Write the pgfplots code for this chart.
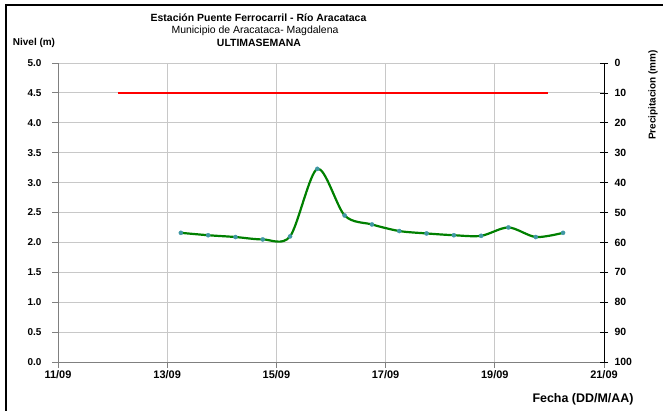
\documentclass[border=0pt]{standalone}
\usepackage{pgfplots}
\pgfplotsset{compat=1.18}
\usepackage{fontspec}
\setmainfont{Liberation Sans}
\definecolor{gridc}{RGB}{200,200,200}
\definecolor{axc}{RGB}{128,128,128}
\definecolor{lvl}{RGB}{0,128,0}
\definecolor{mk}{RGB}{64,152,164}
\begin{document}
\begin{tikzpicture}
\path[use as bounding box] (-58bp,-49bp) rectangle (605bp,362bp);
\draw[line width=2bp,black] (-52bp,-49bp) -- (-52bp,357bp) -- (605bp,357bp);
\begin{axis}[
  at={(0,0)}, anchor=south west,
  scale only axis, width=546bp, height=299bp,
  xmin=11, xmax=21, ymin=0, ymax=5,
  axis x line*=bottom, axis y line*=left,
  axis line style={axc, line width=0.8bp},
  xtick={11,13,15,17,19,21},
  xticklabels={11/09,13/09,15/09,17/09,19/09,21/09},
  ytick={0,0.5,...,5.0},
  yticklabels={0.0,0.5,1.0,1.5,2.0,2.5,3.0,3.5,4.0,4.5,5.0},
  tick style={axc, line width=0.8bp},
  major tick length=6bp,
  tick align=outside,
  grid=major,
  major grid style={gridc, line width=0.8bp},
  yticklabel style={font=\bfseries\fontsize{10}{11}\selectfont, xshift=-7bp},
  xticklabel style={font=\bfseries\fontsize{11}{12}\selectfont, yshift=1bp},
  clip=false,
]
\addplot[red, line width=2bp] coordinates {(12.1,4.5) (19.97,4.5)};
\addplot[lvl, line width=2.2bp, smooth, tension=0.5, mark=*, mark size=2.1bp,
  mark options={fill=mk, draw=mk, line width=0.3bp}] coordinates {
(13.25,2.16) (13.75,2.12) (14.25,2.09) (14.75,2.05) (15.25,2.10)
(15.75,3.23) (16.25,2.45) (16.75,2.30) (17.25,2.19) (17.75,2.15)
(18.25,2.12) (18.75,2.11) (19.25,2.25) (19.75,2.09) (20.25,2.16)};
\end{axis}
\begin{axis}[
  at={(0,0)}, anchor=south west,
  scale only axis, width=546bp, height=299bp,
  xmin=11, xmax=21, ymin=0, ymax=100, y dir=reverse,
  axis x line=none, axis y line*=right,
  axis line style={black, line width=0.8bp},
  ytick={0,10,...,100},
  tick style={black, line width=0.8bp},
  major tick length=8bp,
  tick align=center,
  yticklabel style={font=\bfseries\fontsize{10.5}{11}\selectfont, anchor=west, xshift=3bp},
  yticklabels={0,10,20,30,40,50,60,70,80,90,100},
]
\addplot[draw=none] coordinates {(11,0)};
\end{axis}
\node[font=\bfseries\fontsize{10.5}{12}\selectfont] at (200.5bp,344.5bp) {Estación Puente Ferrocarril - Río Aracataca};
\node[font=\fontsize{10.5}{12}\selectfont] at (197bp,331.5bp) {Municipio de Aracataca- Magdalena};
\node[font=\bfseries\fontsize{10.5}{12}\selectfont] at (201bp,319bp) {ULTIMASEMANA};
\node[font=\bfseries\fontsize{10}{12}\selectfont] at (-24bp,319bp) {Nivel (m)};
\node[font=\bfseries\fontsize{10}{12}\selectfont, rotate=90] at (595bp,267bp) {Precipitacion (mm)};
\node[font=\bfseries\fontsize{12.5}{14}\selectfont] at (525bp,-37bp) {Fecha (DD/M/AA)};
\end{tikzpicture}
\end{document}
